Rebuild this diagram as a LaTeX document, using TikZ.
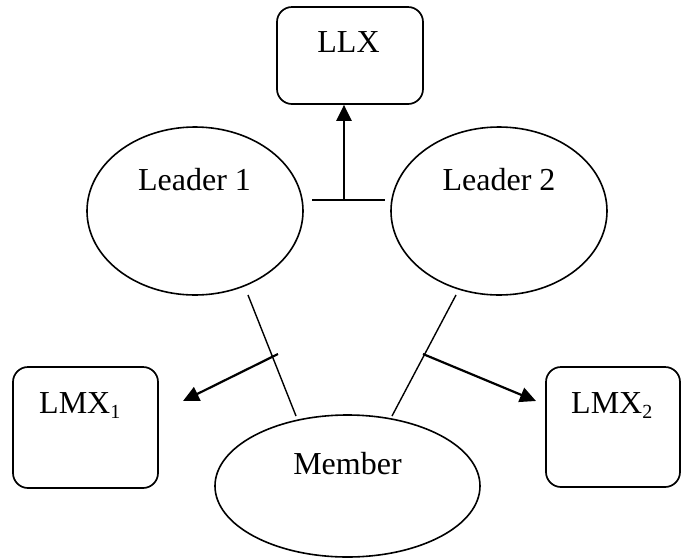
\documentclass[tikz,border=0pt]{standalone}
\usepackage{fontspec}
\setmainfont{Liberation Serif}
\usetikzlibrary{shapes.geometric,arrows.meta}
\newcommand\mysub[1]{\raisebox{-5pt}{\fontsize{20}{20}\selectfont #1}}
\begin{document}
\begin{tikzpicture}[x=1pt,y=-1pt,
  ell/.style={draw, ellipse, line width=1.6pt, inner sep=0pt},
  rbox/.style={draw, rectangle, rounded corners=15pt, line width=1.7pt, inner sep=0pt},
  lbl/.style={font=\fontsize{32}{38}\selectfont, inner sep=0pt},
  slim/.style={line width=1.4pt},
  arr/.style={line width=2.2pt, -{Triangle[length=16pt,width=15pt]}}
]
\useasboundingbox (0,0) rectangle (681,558);

% shapes
\node[rbox, minimum width=146pt, minimum height=97pt] (LLX) at (350,55.5) {};
\node[ell, minimum width=216pt, minimum height=168pt] (L1) at (195,211) {};
\node[ell, minimum width=216pt, minimum height=168pt] (L2) at (499,211) {};
\node[ell, minimum width=265pt, minimum height=142pt] (M) at (347.5,486) {};
\node[rbox, minimum width=145pt, minimum height=121pt] (LMX1) at (85.5,427.5) {};
\node[rbox, minimum width=134pt, minimum height=120pt] (LMX2) at (613,427) {};

% labels
\node[lbl, anchor=base] (tLLX) at (348.5,52) {LLX};
\node[lbl, anchor=base] (tL1) at (194.5,190) {Leader 1};
\node[lbl, anchor=base] (tL2) at (499,190) {Leader 2};
\node[lbl, anchor=base] (tM) at (347.5,474) {Member};
\node[lbl, anchor=base west] (tX1) at (39,413) {LMX\mysub{1}};
\node[lbl, anchor=base west] (tX2) at (571,413) {LMX\mysub{2}};

% connector points
\coordinate (h1) at (312,200);
\coordinate (h2) at (385,200);
\coordinate (hm) at (344,200);
\coordinate (a1) at (248,295);
\coordinate (a2) at (296,416);
\coordinate (b1) at (456,295);
\coordinate (b2) at (392,416);
\coordinate (s1) at (278,354);
\coordinate (t1) at (183,401);
\coordinate (s2) at (423,354);
\coordinate (t2) at (536,401);

% connectors
\draw[slim] (h1) -- (h2);
\draw[arr] (hm) -- (hm |- LLX.south);
\draw[slim] (a1) -- (a2);
\draw[slim] (b1) -- (b2);
\draw[arr] (s1) -- (t1);
\draw[arr] (s2) -- (t2);
\end{tikzpicture}
\end{document}
